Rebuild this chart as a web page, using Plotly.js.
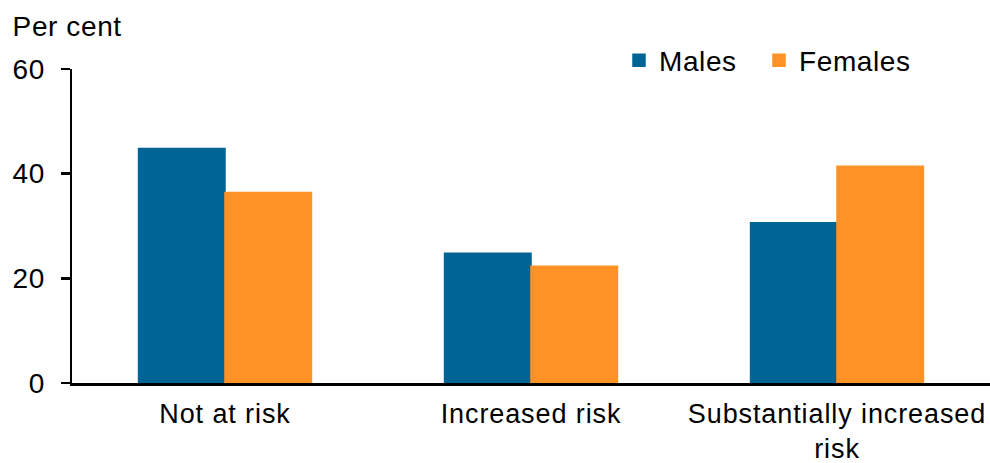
<!DOCTYPE html>
<html>
<head>
<meta charset="utf-8">
<script src="https://cdn.plot.ly/plotly-3.0.1.min.js"></script>
<style>
  html, body { margin: 0; padding: 0; background: #fff; }
  #chart { width: 990px; height: 463px; }
  /* slightly looser letter spacing for the chart's labels */
  #chart text { letter-spacing: 0.6px; }
  #chart .xtick text { letter-spacing: 0.9px; }
</style>
</head>
<body>
<div id="chart"></div>
<script>
// Risk categories along the x axis
const categories = ['Not at risk', 'Increased risk', 'Substantially increased<br>risk'];

// Per cent of each sex in each risk category
const males = [44.8, 24.8, 30.6];
const females = [36.4, 22.3, 41.4];

// Y axis ticks
const yTicks = [0, 20, 40, 60];

const FONT = 'Liberation Sans, Arial, sans-serif';
const BLUE = '#006596';
const ORANGE = '#FF9226';

const PLOT_W = 918;  // 990 - left margin

const traces = [
  { type: 'bar', name: 'Males', x: categories, y: males, legend: 'legend',
    marker: { color: BLUE, line: { color: BLUE, width: 1.5 } }, hoverinfo: 'skip' },
  { type: 'bar', name: 'Females', x: categories, y: females, legend: 'legend2',
    marker: { color: ORANGE, line: { color: ORANGE, width: 1.5 } }, hoverinfo: 'skip' }
];

// one legend per series so each key can sit at its own spot
function legendAt(px) {
  return {
    orientation: 'h',
    x: (px - 72) / PLOT_W, xanchor: 'left',
    y: 1.027, yanchor: 'middle',
    font: { family: FONT, size: 28, color: '#000' },
    itemwidth: 30,
    bgcolor: 'rgba(0,0,0,0)'
  };
}

const layout = {
  width: 990,
  height: 463,
  margin: { l: 72, r: 0, t: 69, b: 80, autoexpand: false },
  paper_bgcolor: '#fff',
  plot_bgcolor: '#fff',
  font: { family: FONT, size: 28, color: '#000' },
  barmode: 'group',
  bargap: 0.435,
  bargroupgap: 0,
  showlegend: true,
  legend: legendAt(619),
  legend2: legendAt(759),
  xaxis: {
    type: 'category',
    range: [-0.5, 2.5],
    showline: true, linecolor: '#000', linewidth: 2.5,
    ticks: '',
    showgrid: false, zeroline: false,
    tickfont: { family: FONT, size: 27, color: '#000' },
    ticklabelstandoff: 5,
    fixedrange: true
  },
  yaxis: {
    range: [0, 60],
    tickvals: yTicks,
    ticktext: yTicks.map(String),
    showline: true, linecolor: '#000', linewidth: 2.5,
    ticks: 'outside', ticklen: 9, tickwidth: 2.5, tickcolor: '#000',
    showgrid: false, zeroline: false,
    tickfont: { family: FONT, size: 28, color: '#000' },
    ticklabelstandoff: 10,
    fixedrange: true
  },
  annotations: [
    { text: 'Per cent', xref: 'paper', yref: 'paper',
      x: -72 / PLOT_W, xanchor: 'left', xshift: 13,
      y: 1, yanchor: 'bottom', yshift: 25, showarrow: false,
      font: { family: FONT, size: 28, color: '#000' } }
  ]
};

Plotly.newPlot('chart', traces, layout, { displayModeBar: false, staticPlot: true });
</script>
</body>
</html>
